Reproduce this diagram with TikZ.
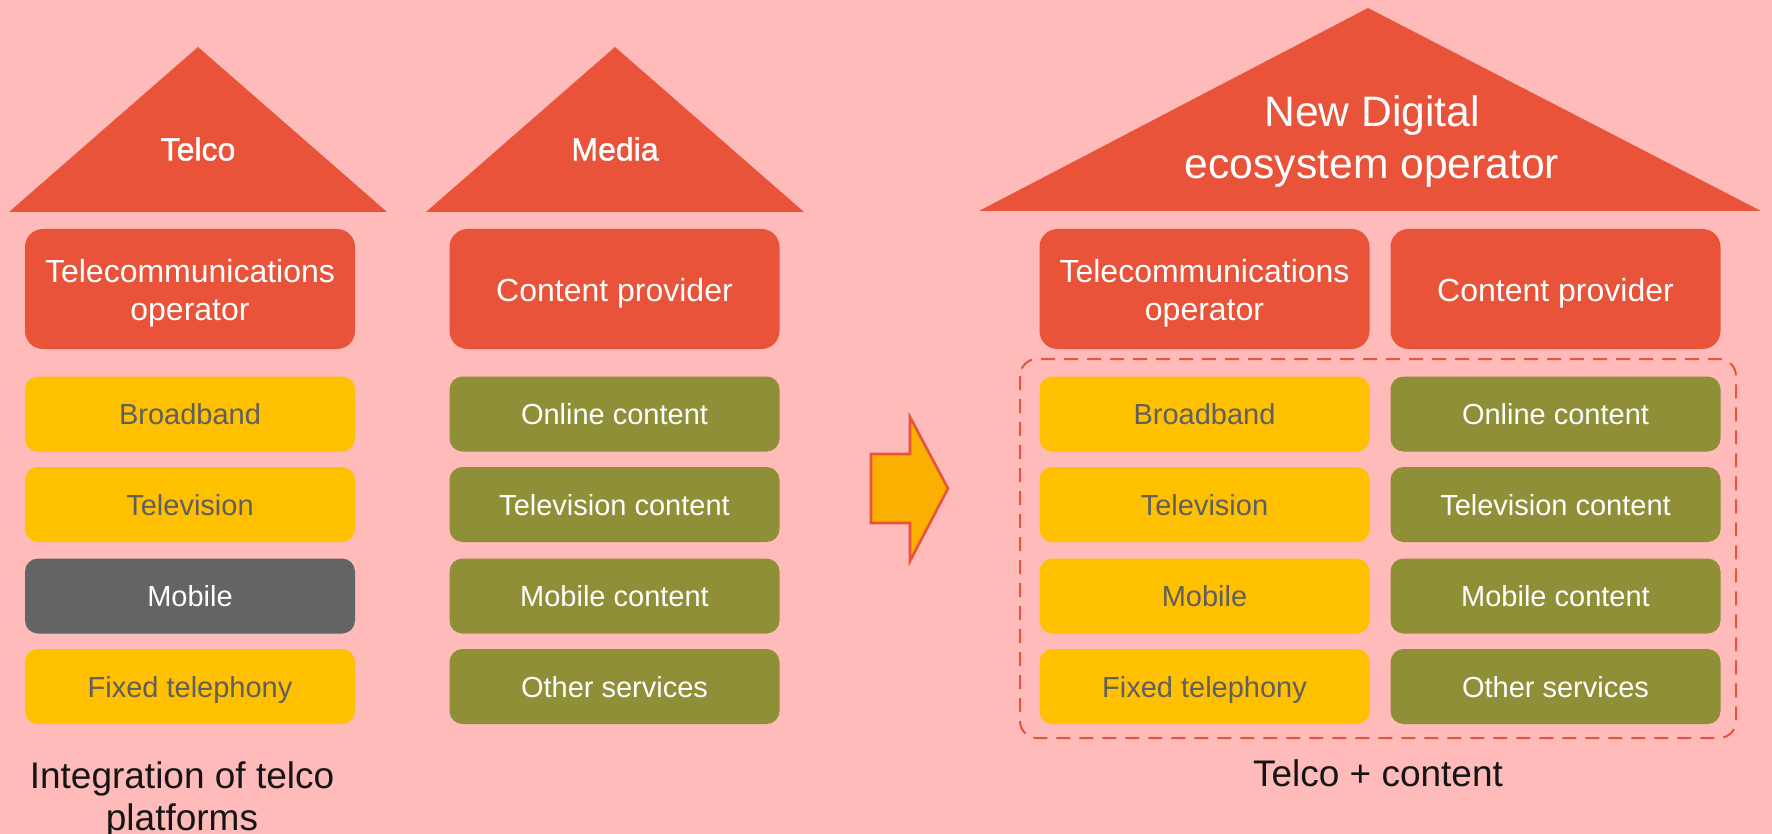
\documentclass[tikz,border=0pt]{standalone}
\usepackage{fontspec}
\setmainfont{Liberation Sans}
\newfontfamily\roofbold[FakeBold=1.3]{Liberation Sans}
\definecolor{bgpink}{HTML}{FFBABA}
\definecolor{roofred}{HTML}{E8533A}
\definecolor{boxyellow}{HTML}{FFC000}
\definecolor{boxolive}{HTML}{8E8F37}
\definecolor{boxgray}{HTML}{636466}
\definecolor{txtgray}{HTML}{5F5F5F}
\definecolor{arrowfill}{HTML}{F9B000}
\definecolor{titletxt}{HTML}{151515}
\begin{document}
\begin{tikzpicture}[x=0.5pt,y=-0.5pt,
  headbox/.style={rectangle,rounded corners=9pt,fill=roofred,minimum width=165pt,minimum height=60pt,inner sep=0pt},
  headtxt/.style={text=white,align=center,font=\fontsize{16}{19}\selectfont,inner sep=0pt},
  svc/.style={rectangle,rounded corners=6.5pt,minimum width=165pt,minimum height=37.5pt,align=center,font=\fontsize{14.5}{17}\selectfont,inner sep=0pt,text height=10.6pt,text depth=0pt},
  ybox/.style={svc,fill=boxyellow,text=txtgray},
  obox/.style={svc,fill=boxolive,text=white},
  gbox/.style={svc,fill=boxgray,text=white},
  rooflabel/.style={text=white,font=\roofbold\fontsize{16}{19}\selectfont,align=center},
  caption/.style={text=titletxt,font=\fontsize{18.5}{21}\selectfont,align=center},
  roof/.style={fill=roofred}
]
\fill[bgpink] (0,0) rectangle (1772,834);
\useasboundingbox (0,0) rectangle (1772,834);

% roofs
\fill[roof] (9,212) -- (198,47) -- (387,212) -- cycle;
\fill[roof] (426,212) -- (615,47) -- (804,212) -- cycle;
\fill[roof] (979,211) -- (1368,8) -- (1761,211) -- cycle;
\node[rooflabel] (telco) at (198,149) {Telco};
\node[rooflabel] (media) at (615,149) {Media};
\node[text=white,font=\fontsize{21.3}{26}\selectfont,align=center] (nde) at (1372,141.5) {New Digital\\ecosystem operator};

% left column
\node[headbox] (lop) at (190,289) {};
\node[headtxt] (lopt) at ([yshift=-2.2pt]lop.center) {Telecommunications\\operator};
\node[ybox] (lbb) at (190,414) {Broadband};
\node[ybox] (ltv) at (190,504.5) {Television};
\node[gbox] (lmo) at (190,596) {Mobile};
\node[ybox] (lfx) at (190,686.5) {Fixed telephony};

% media column
\node[headbox] (mcp) at (614.5,289) {};
\node[headtxt] (mcpt) at ([yshift=-2.2pt]mcp.center) {Content provider};
\node[obox] (mon) at (614.5,414) {Online content};
\node[obox] (mtv) at (614.5,504.5) {Television content};
\node[obox] (mmo) at (614.5,596) {Mobile content};
\node[obox] (mot) at (614.5,686.5) {Other services};

% right part
\node[headbox] (rop) at (1204.5,289) {};
\node[headtxt] (ropt) at ([yshift=-2.2pt]rop.center) {Telecommunications\\operator};
\node[headbox] (rcp) at (1555.5,289) {};
\node[headtxt] (rcpt) at ([yshift=-2.2pt]rcp.center) {Content provider};
\node[ybox] (rbb) at (1204.5,414) {Broadband};
\node[ybox] (rtv) at (1204.5,504.5) {Television};
\node[ybox] (rmo) at (1204.5,596) {Mobile};
\node[ybox] (rfx) at (1204.5,686.5) {Fixed telephony};
\node[obox] (ron) at (1555.5,414) {Online content};
\node[obox] (rtc) at (1555.5,504.5) {Television content};
\node[obox] (rmc) at (1555.5,596) {Mobile content};
\node[obox] (ros) at (1555.5,686.5) {Other services};

\draw[roofred,line width=1pt,dash pattern=on 7pt off 4.5pt,rounded corners=8.5pt] (1020,359) rectangle (1736,738);

% arrow
\draw[fill=arrowfill,draw=roofred,line width=1.3pt,line join=miter]
  (871,454) -- (910,454) -- (910,417) -- (948,488.5) -- (910,561) -- (910,523) -- (871,523) -- cycle;

% captions
\node[caption] (cap1) at (182,799.5) {Integration of telco\\platforms};
\node[caption] (cap2) at (1378,773) {Telco + content};
\end{tikzpicture}
\end{document}
